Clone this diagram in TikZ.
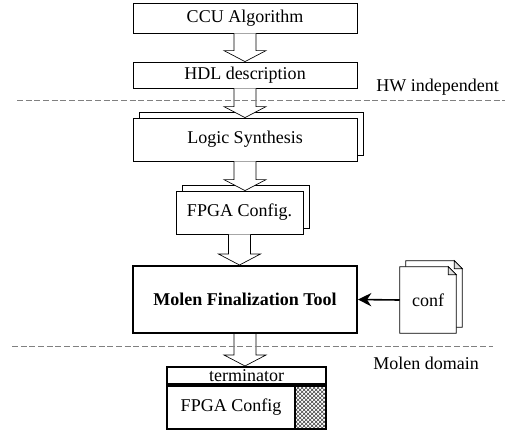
\documentclass[tikz,border=0pt]{standalone}
\usepackage{fontspec}
\setmainfont{Liberation Serif}
\usetikzlibrary{calc,shadows,patterns,arrows.meta,backgrounds}
\newcommand{\txt}{\fontsize{13.5}{16}\selectfont}
\newcommand{\bftxt}{\fontsize{13.5}{16}\selectfont\bfseries}
% hollow block arrow from one box down to the next
\newcommand{\blockarrow}[2]{%
  \draw[line width=0.5pt,fill=white] let \p1=(#1.south), \p2=(#2.north) in
    (\x1-8.25pt,\y1) -- (\x1-8.25pt,\y2+8.25pt) -- (\x1-15.75pt,\y2+8.25pt) -- (\x1,\y2)
    -- (\x1+15.75pt,\y2+8.25pt) -- (\x1+8.25pt,\y2+8.25pt) -- (\x1+8.25pt,\y1);}
\tikzset{
  blk/.style={draw,line width=0.6pt,fill=white,inner sep=0pt,font=\txt},
  stackblk/.style={blk,copy shadow={shadow xshift=4.5pt,shadow yshift=4.5pt,line width=0.6pt}},
  thickblk/.style={blk,line width=1.5pt},
  domainline/.style={gray,line width=0.6pt,dash pattern=on 4.5pt off 2pt},
  lbl/.style={inner sep=0pt,font=\txt}
}
\begin{document}
\begin{tikzpicture}[x=0.75pt,y=-0.75pt]
    \useasboundingbox (0,0) rectangle (513,430);

    % design flow boxes
    \node[blk,minimum width=168pt,minimum height=22.5pt] (ccu) at (245,18) {CCU Algorithm};
    \node[blk,minimum width=168pt,minimum height=19.5pt] (hdl) at (245,75) {HDL description};
    \node[stackblk,minimum width=168pt,minimum height=32.25pt] (synth) at (245,139.5) {Logic Synthesis};
    \node[stackblk,minimum width=95.25pt,minimum height=32.25pt] (bits) at (239.5,212.5) {FPGA Config.};
    \node[thickblk,minimum width=168pt,minimum height=50.25pt,font=\bftxt] (molen) at (245,299.5) {Molen Finalization Tool};

    % conf file (two sheets)
    \node[lbl,minimum width=42pt,minimum height=49.5pt] (conf) at (428,300) {conf};
    \begin{scope}[on background layer]
      \foreach \s in {4.5pt,0pt}{
        \draw[line width=0.5pt,fill=white] ([xshift=\s,yshift=\s]conf.south west) -- ([xshift=\s,yshift=\s]conf.north west)
          -- ([xshift=\s-6pt,yshift=\s]conf.north east) -- ([xshift=\s,yshift=\s-6pt]conf.north east)
          -- ([xshift=\s,yshift=\s]conf.south east) -- cycle;
        \draw[line width=0.5pt,fill=gray!25] ([xshift=\s-6pt,yshift=\s]conf.north east)
          -- ([xshift=\s-6pt,yshift=\s-6pt]conf.north east) -- ([xshift=\s,yshift=\s-6pt]conf.north east) -- cycle;
      }
    \end{scope}

    % output bitstream
    \node[thickblk,minimum width=119.25pt,minimum height=12.75pt] (term) at (246.5,375.5) {terminator};
    \node[thickblk,minimum width=96pt,minimum height=32.25pt,anchor=north west] (cfg) at (term.south west) {FPGA Config};
    \node[thickblk,pattern=crosshatch,pattern color=black!75,minimum width=23.25pt,minimum height=32.25pt,anchor=north east] (pad) at (term.south east) {};

    % arrows
    \blockarrow{ccu}{hdl}
    \blockarrow{hdl}{synth}
    \blockarrow{synth}{bits}
    \blockarrow{bits}{molen}
    \blockarrow{molen}{term}
    \draw[line width=1.2pt,-{Stealth[length=10pt,width=10pt]}] (conf.west) -- (molen.east);

    % domain borders
    \draw[domainline] (17,100) -- (505,100);
    \draw[domainline] (12,346) -- (493,346);
    \node[lbl,anchor=east] (hwlbl) at (499,87) {HW independent};
    \node[lbl,anchor=west] (molenlbl) at (373,363) {Molen domain};
\end{tikzpicture}
\end{document}
